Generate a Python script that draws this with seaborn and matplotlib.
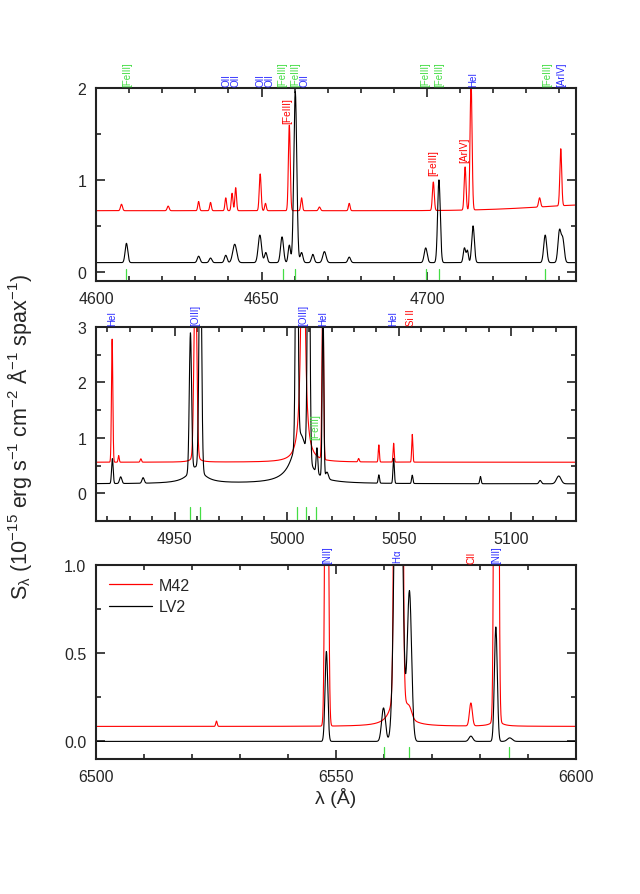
import numpy as np
import pandas as pd
import matplotlib
matplotlib.use("Agg")
import matplotlib.pyplot as plt
import matplotlib.transforms as mtrans
from matplotlib.ticker import MultipleLocator, FormatStrFormatter
import seaborn as sns

# ------------------------------------------------------------------
# style
# ------------------------------------------------------------------
sns.set_style("ticks")
plt.rcParams['font.family'] = ['Liberation Sans', 'DejaVu Sans']
plt.rcParams['mathtext.fontset'] = 'custom'
plt.rcParams['mathtext.rm'] = 'Liberation Sans'
plt.rcParams['mathtext.default'] = 'regular'

RED = '#ff0000'
BLUE = '#2a2aff'
GREEN = '#44dd44'

# ------------------------------------------------------------------
# data: continuum level + emission lines
# gaussian lines: (centre A, peak above continuum, sigma A)
# wings (lorentzian): (centre A, peak, half width A)
# ------------------------------------------------------------------

# panel 1: 4600-4745 A
p1_m42_cont = 0.665
p1_m42_lines = [
    (4607.7, 0.07, 0.30), (4621.8, 0.05, 0.30), (4631.0, 0.10, 0.25),
    (4634.6, 0.09, 0.25), (4639.2, 0.14, 0.25), (4641.1, 0.19, 0.25),
    (4642.2, 0.25, 0.25), (4649.6, 0.40, 0.28), (4651.2, 0.08, 0.25),
    (4658.4, 0.93, 0.28), (4662.1, 0.14, 0.25), (4667.5, 0.04, 0.30),
    (4676.5, 0.08, 0.25), (4701.9, 0.31, 0.28), (4711.5, 0.47, 0.28),
    (4713.3, 1.40, 0.30), (4734.0, 0.10, 0.30), (4740.4, 0.62, 0.28),
    (4755.0, 0.07, 20.0),
]
p1_m42_wings = []
p1_lv2_cont = 0.10
p1_lv2_lines = [
    (4609.2, 0.21, 0.40), (4631.0, 0.07, 0.40), (4634.6, 0.05, 0.40),
    (4639.2, 0.08, 0.40), (4641.9, 0.20, 0.60), (4649.5, 0.30, 0.50),
    (4651.3, 0.11, 0.40), (4656.2, 0.28, 0.45), (4658.4, 0.19, 0.35),
    (4660.2, 1.86, 0.45), (4662.1, 0.11, 0.40), (4665.5, 0.09, 0.40),
    (4669.0, 0.12, 0.50), (4676.5, 0.06, 0.40), (4699.6, 0.16, 0.45),
    (4703.6, 0.90, 0.40), (4711.3, 0.16, 0.35), (4712.2, 0.13, 0.30),
    (4713.9, 0.40, 0.40), (4735.7, 0.30, 0.45), (4740.0, 0.34, 0.45),
    (4741.0, 0.25, 0.45),
]
p1_lv2_wings = []

# panel 2: 4915-5129 A
p2_m42_cont = 0.56
p2_m42_lines = [
    (4922.2, 2.22, 0.30), (4925.1, 0.12, 0.25), (4935.0, 0.06, 0.30),
    (4959.3, 3.50, 0.60), (5016.1, 3.20, 0.35), (5032.1, 0.06, 0.30),
    (5041.1, 0.31, 0.25), (5047.7, 0.34, 0.25), (5056.0, 0.50, 0.25),
]
p2_m42_wings = [(4959.3, 0.15, 1.5), (5007.3, 7.00, 0.8)]
p2_lv2_cont = 0.17
p2_lv2_lines = [
    (4922.3, 0.45, 0.35), (4926.0, 0.12, 0.50), (4936.0, 0.10, 0.50),
    (4957.1, 2.50, 0.50), (4961.5, 4.50, 0.55), (5004.5, 6.00, 0.50),
    (5009.8, 6.00, 0.50), (5013.5, 0.45, 0.35), (5016.2, 3.20, 0.35),
    (5018.0, 0.12, 0.60), (5041.1, 0.15, 0.30), (5047.7, 0.45, 0.30),
    (5056.0, 0.15, 0.30), (5086.4, 0.13, 0.30), (5113.0, 0.06, 0.50),
    (5121.3, 0.14, 1.00),
]
p2_lv2_wings = [(4959.5, 0.30, 4.0), (5006.0, 0.90, 4.0)]

# panel 3: 6500-6600 A
p3_m42_cont = 0.085
p3_m42_lines = [
    (6525.1, 0.03, 0.15), (6548.05, 3.70, 0.28), (6563.0, 30.0, 0.40),
    (6565.3, 0.05, 0.50), (6578.1, 0.13, 0.30), (6583.4, 11.0, 0.29),
]
p3_m42_wings = [(6563.0, 0.42, 1.0), (6583.4, 0.04, 1.0)]
p3_lv2_cont = 0.0
p3_lv2_lines = [
    (6548.0, 0.51, 0.28), (6559.9, 0.19, 0.40), (6563.0, 3.00, 0.65),
    (6565.3, 0.85, 0.45), (6578.1, 0.03, 0.40), (6583.3, 0.65, 0.30),
    (6586.2, 0.02, 0.50),
]
p3_lv2_wings = []

# line identifications above each panel: (wavelength, text, colour)
p1_ids = [(4609.4, '[FeIII]', GREEN), (4639.4, 'OII', BLUE), (4642.1, 'OII', BLUE),
          (4649.6, 'OII', BLUE), (4652.4, 'OII', BLUE), (4656.4, '[FeIII]', GREEN),
          (4660.2, '[FeIII]', GREEN), (4662.95, 'OII', BLUE), (4699.6, '[FeIII]', GREEN),
          (4703.6, '[FeIII]', GREEN), (4713.9, 'HeI', BLUE), (4736.2, '[FeIII]', GREEN),
          (4740.6, '[ArIV]', BLUE)]
p2_ids = [(4922.2, 'HeI', BLUE), (4959.3, '[OIII]', BLUE), (5007.4, '[OIII]', BLUE),
          (5016.3, 'HeI', BLUE), (5047.7, 'HeI', BLUE), (5055.5, 'Si II', RED)]
p3_ids = [(6548.1, '[NII]', BLUE), (6562.8, r'H$\alpha$', BLUE), (6578.3, 'CII', RED),
          (6583.3, '[NII]', BLUE)]

# labels inside the panels: (wavelength, flux, text, colour)
p1_inner = [(4657.9, 1.62, '[FeIII]', RED), (4701.9, 1.05, '[FeIII]', RED),
            (4711.1, 1.20, '[ArIV]', RED)]
p2_inner = [(5012.8, 0.98, '[FeIII]', GREEN)]
p3_inner = []

# short marks of LV2 line positions
p1_marks = [4609.2, 4656.4, 4660.2, 4699.6, 4703.6, 4735.7]
p2_marks = [4957.1, 4961.3, 5004.7, 5008.6, 5013.2]
p3_marks = [6559.9, 6565.2, 6586.1]


def spectrum(wl, cont, lines, wings):
    flux = np.full_like(wl, cont)
    for c, h, s in lines:
        flux += h * np.exp(-0.5 * ((wl - c) / s) ** 2)
    for c, h, g in wings:
        flux += h * g ** 2 / ((wl - c) ** 2 + g ** 2)
    return flux


panels = [
    dict(xlim=(4600, 4745), ylim=(-0.1, 2.0), ymaj=1, ymin=0.5, fmt='%d',
         m42=(p1_m42_cont, p1_m42_lines, p1_m42_wings),
         lv2=(p1_lv2_cont, p1_lv2_lines, p1_lv2_wings),
         ids=p1_ids, inner=p1_inner, marks=p1_marks, mark_y=(-0.08, 0.03)),
    dict(xlim=(4915, 5129), ylim=(-0.5, 3.0), ymaj=1, ymin=0.5, fmt='%d',
         m42=(p2_m42_cont, p2_m42_lines, p2_m42_wings),
         lv2=(p2_lv2_cont, p2_lv2_lines, p2_lv2_wings),
         ids=p2_ids, inner=p2_inner, marks=p2_marks, mark_y=(-0.47, -0.25)),
    dict(xlim=(6500, 6600), ylim=(-0.1, 1.0), ymaj=0.5, ymin=0.25, fmt='%.1f',
         m42=(p3_m42_cont, p3_m42_lines, p3_m42_wings),
         lv2=(p3_lv2_cont, p3_lv2_lines, p3_lv2_wings),
         ids=p3_ids, inner=p3_inner, marks=p3_marks, mark_y=(-0.09, -0.03)),
]

fig = plt.figure(figsize=(6.4, 8.95), dpi=100)
boxes = [(0.15, 0.6849, 0.75, 0.2157),
         (0.15, 0.4168, 0.75, 0.2167),
         (0.15, 0.1508, 0.75, 0.2167)]

for i, (p, box) in enumerate(zip(panels, boxes)):
    ax = fig.add_axes(box)
    wl = np.arange(p['xlim'][0], p['xlim'][1] + 0.05, 0.04)
    df = pd.concat([
        pd.DataFrame({'wl': wl, 'flux': spectrum(wl, *p['m42']), 'src': 'M42'}),
        pd.DataFrame({'wl': wl, 'flux': spectrum(wl, *p['lv2']), 'src': 'LV2'}),
    ])
    sns.lineplot(data=df, x='wl', y='flux', hue='src', hue_order=['M42', 'LV2'],
                 palette={'M42': RED, 'LV2': 'black'}, estimator=None, sort=False,
                 lw=0.8, ax=ax, legend=(i == 2))

    ax.set_xlim(*p['xlim'])
    ax.set_ylim(*p['ylim'])
    ax.xaxis.set_major_locator(MultipleLocator(50))
    ax.xaxis.set_minor_locator(MultipleLocator(10))
    ax.yaxis.set_major_locator(MultipleLocator(p['ymaj']))
    ax.yaxis.set_minor_locator(MultipleLocator(p['ymin']))
    ax.yaxis.set_major_formatter(FormatStrFormatter(p['fmt']))
    ax.tick_params(which='both', direction='in', top=True, right=True,
                   width=1.2, labelsize=11.5, color='#222222')
    ax.tick_params(which='major', length=6.5)
    ax.tick_params(which='minor', length=3.5)
    ax.tick_params(axis='x', pad=7)
    ax.tick_params(axis='y', pad=7)
    for sp in ax.spines.values():
        sp.set_linewidth(1.5)
        sp.set_color('#222222')
    ax.set_xlabel('')
    ax.set_ylabel('')

    # identifications above the frame
    trans = mtrans.blended_transform_factory(ax.transData, ax.transAxes)
    for lam, txt, col in p['ids']:
        ax.annotate(txt, xy=(lam, 1.0), xycoords=trans, xytext=(0, 1.5),
                    textcoords='offset points', rotation=90, ha='center',
                    va='bottom', fontsize=7, color=col, annotation_clip=False)
    for lam, yv, txt, col in p['inner']:
        ax.text(lam, yv, txt, rotation=90, ha='center', va='bottom',
                fontsize=7.3, color=col)
    for lam in p['marks']:
        ax.plot([lam, lam], p['mark_y'], color=GREEN, lw=0.9)

    if i == 2:
        leg = ax.legend(loc='upper left', frameon=False, fontsize=11.5,
                        handlelength=2.7, borderaxespad=0.4, labelspacing=0.4,
                        handletextpad=0.4)
        for line in leg.get_lines():
            line.set_linewidth(0.9)
        ax.set_xlabel('λ (Å)', fontsize=14, labelpad=2)

fig.text(0.031, 0.512,
         r'S$_\lambda$ (10$^{-15}$ erg s$^{-1}$ cm$^{-2}$ Å$^{-1}$ spax$^{-1}$)',
         rotation=90, ha='center', va='center', fontsize=15.5)

fig.savefig('out.png', dpi=100)
